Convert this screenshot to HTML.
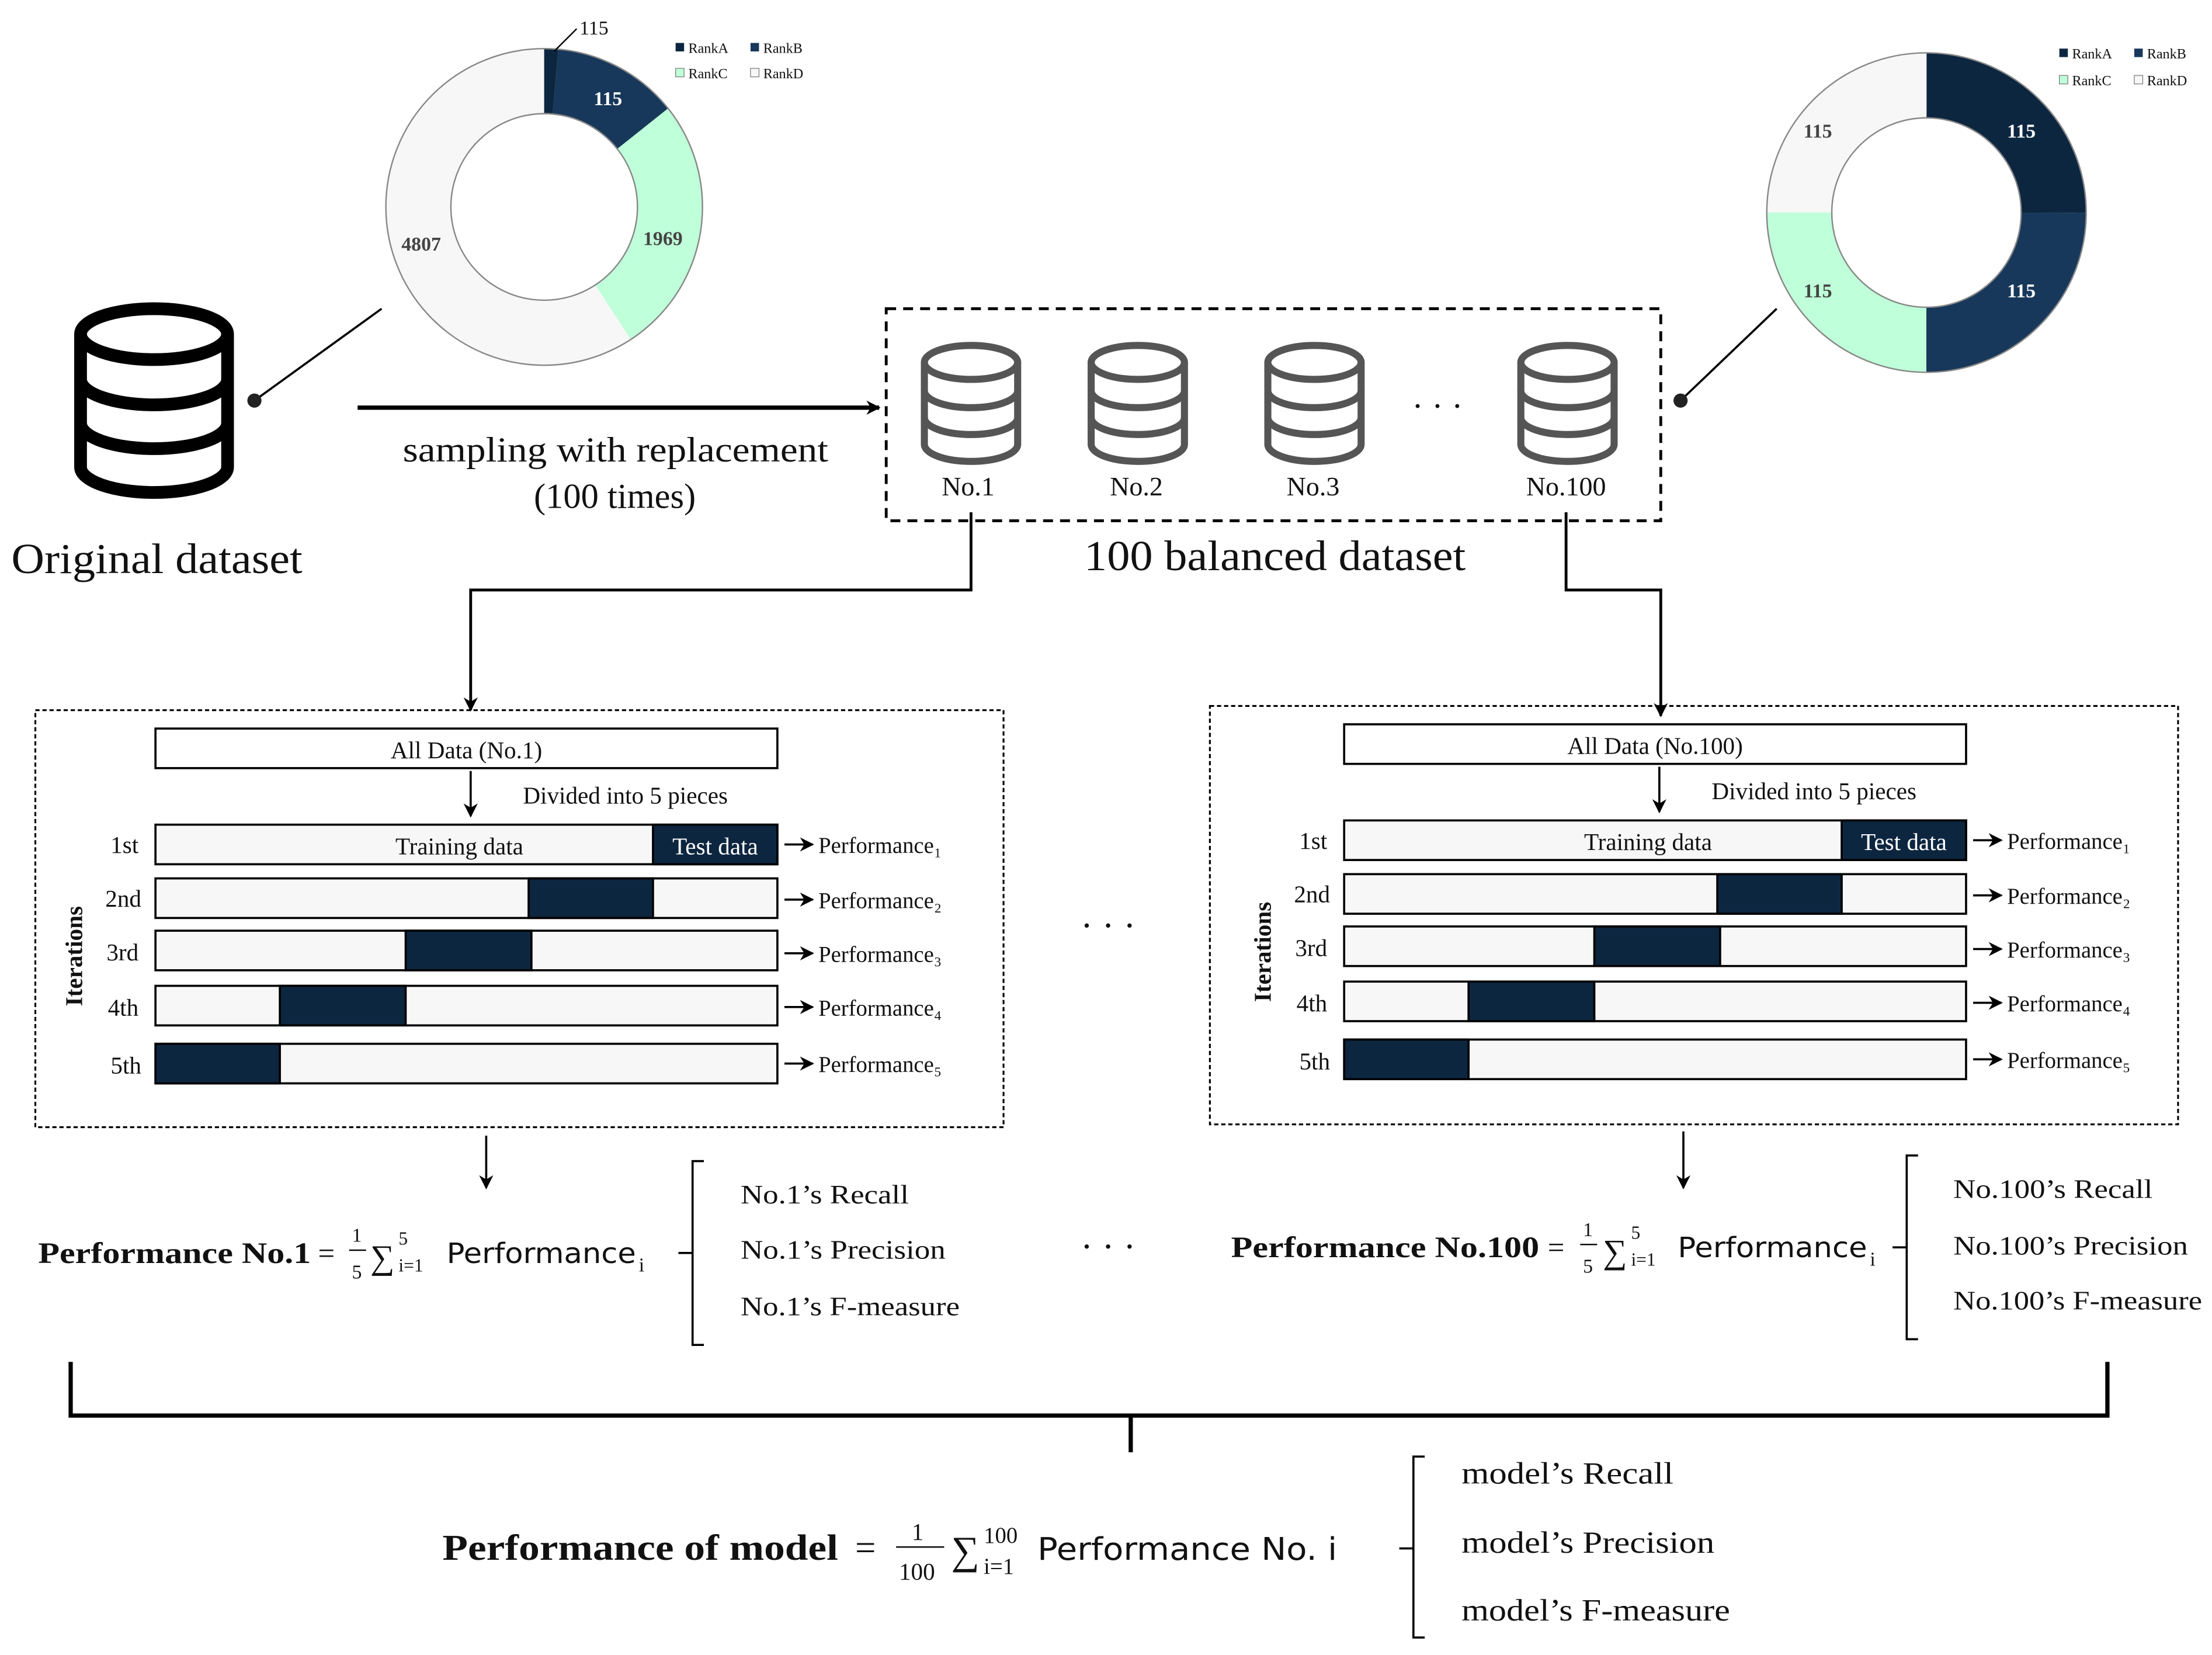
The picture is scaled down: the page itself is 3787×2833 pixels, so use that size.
<!DOCTYPE html>
<html><head><meta charset="utf-8"><style>html,body{margin:0;padding:0;background:#fff}svg{display:block}text{font-family:"Liberation Serif",serif;fill:#111}</style></head><body>
<svg width="3787" height="2833" viewBox="0 0 1565 1170" xmlns="http://www.w3.org/2000/svg">
<defs>
<marker id="ah" markerWidth="10" markerHeight="10" refX="9" refY="5" orient="auto" markerUnits="userSpaceOnUse"><path d="M0,0 L10,5 L0,10 L3,5 z" fill="#000"/></marker>
<g id="cyl">
<g fill="none" stroke="#555" stroke-width="5">
<ellipse cx="36" cy="14" rx="33" ry="12"/>
<path d="M3,14 V72 A33,12 0 0 0 69,72 V14"/>
<path d="M3,34 A33,12 0 0 0 69,34"/>
<path d="M3,53 A33,12 0 0 0 69,53"/>
</g></g>
</defs>
<!-- left donut -->
<g transform="rotate(-90 385 146)" fill="none" stroke-width="46">
<circle cx="385" cy="146" r="89" stroke="#f7f7f7"/>
<circle cx="385" cy="146" r="89" stroke="#bfffd9" stroke-dasharray="0 80 148 400"/>
<circle cx="385" cy="146" r="89" stroke="#17385a" stroke-dasharray="0 8 72 500"/>
<circle cx="385" cy="146" r="89" stroke="#0d2640" stroke-dasharray="8 560"/>
</g>
<circle cx="385" cy="146" r="112" fill="none" stroke="#888" stroke-width="1"/>
<circle cx="385" cy="146" r="66" fill="#fff" stroke="#888" stroke-width="1"/>
<text x="420" y="74" font-size="14" font-weight="bold" style="fill:#fff">115</text>
<text x="455" y="173" font-size="14" font-weight="bold" style="fill:#444">1969</text>
<text x="284" y="177" font-size="14" font-weight="bold" style="fill:#444">4807</text>
<text x="410" y="24" font-size="14">115</text>
<line x1="392" y1="36" x2="408" y2="20" stroke="#000" stroke-width="1"/>
<g font-size="10"><rect x="478" y="30" width="6" height="6" fill="#0d2640"/><text x="487" y="37">RankA</text>
<rect x="531" y="30" width="6" height="6" fill="#17385a"/><text x="540" y="37">RankB</text>
<rect x="478" y="48" width="6" height="6" fill="#bfffd9" stroke="#777" stroke-width=".5"/><text x="487" y="55">RankC</text>
<rect x="531" y="48" width="6" height="6" fill="#f7f7f7" stroke="#777" stroke-width=".5"/><text x="540" y="55">RankD</text></g>
<!-- right donut -->
<g fill="none" stroke-width="46" transform="rotate(-90 1363 150)">
<circle cx="1363" cy="150" r="90" stroke="#0d2640" stroke-dasharray="141.4 800"/>
<circle cx="1363" cy="150" r="90" stroke="#17385a" stroke-dasharray="0 141.4 141.4 800"/>
<circle cx="1363" cy="150" r="90" stroke="#bfffd9" stroke-dasharray="0 282.8 141.4 800"/>
<circle cx="1363" cy="150" r="90" stroke="#f7f7f7" stroke-dasharray="0 424.1 141.4 800"/>
</g>
<circle cx="1363" cy="150" r="113" fill="none" stroke="#888" stroke-width="1"/>
<circle cx="1363" cy="150" r="67" fill="#fff" stroke="#888" stroke-width="1"/>
<g font-size="14" font-weight="bold"><text x="1420" y="97" style="fill:#fff">115</text><text x="1420" y="210" style="fill:#fff">115</text><text x="1276" y="97" style="fill:#444">115</text><text x="1276" y="210" style="fill:#444">115</text></g>
<g font-size="10"><rect x="1457" y="34" width="6" height="6" fill="#0d2640"/><text x="1466" y="41">RankA</text>
<rect x="1510" y="34" width="6" height="6" fill="#17385a"/><text x="1519" y="41">RankB</text>
<rect x="1457" y="53" width="6" height="6" fill="#bfffd9" stroke="#777" stroke-width=".5"/><text x="1466" y="60">RankC</text>
<rect x="1510" y="53" width="6" height="6" fill="#f7f7f7" stroke="#777" stroke-width=".5"/><text x="1519" y="60">RankD</text></g>
<!-- original db -->
<g fill="none" stroke="#000" stroke-width="9">
<ellipse cx="109" cy="236" rx="52" ry="18"/>
<path d="M57,236 V330 A52,18 0 0 0 161,330 V236"/>
<path d="M57,268 A52,18 0 0 0 161,268"/>
<path d="M57,299 A52,18 0 0 0 161,299"/>
</g>
<text x="8" y="405" font-size="30" textLength="206" lengthAdjust="spacingAndGlyphs">Original dataset</text>
<line x1="180" y1="283" x2="270" y2="218" stroke="#000" stroke-width="1.5"/><circle cx="180" cy="283" r="5" fill="#222"/>
<line x1="1189" y1="283" x2="1257" y2="218" stroke="#000" stroke-width="1.5"/><circle cx="1189" cy="283" r="5" fill="#222"/>
<line x1="253" y1="288" x2="622" y2="288" stroke="#000" stroke-width="3" marker-end="url(#ah)"/>
<text x="285" y="326" font-size="25" textLength="301" lengthAdjust="spacingAndGlyphs">sampling with replacement</text>
<text x="435" y="359" font-size="25" text-anchor="middle">(100 times)</text>
<rect x="627" y="218" width="548" height="150" fill="none" stroke="#000" stroke-width="2" stroke-dasharray="7,5"/>
<use href="#cyl" x="651" y="242"/><use href="#cyl" x="769" y="242"/><use href="#cyl" x="894" y="242"/><use href="#cyl" x="1073" y="242"/>
<g font-size="19" text-anchor="middle"><text x="685" y="350">No.1</text><text x="804" y="350">No.2</text><text x="929" y="350">No.3</text><text x="1108" y="350">No.100</text></g>
<text x="1017" y="295" font-size="24" text-anchor="middle">· · ·</text>
<text x="767" y="403" font-size="30" textLength="270" lengthAdjust="spacingAndGlyphs">100 balanced dataset</text>
<polyline points="687,362 687,417 333,417 333,502" fill="none" stroke="#000" stroke-width="2" marker-end="url(#ah)"/>
<polyline points="1108,362 1108,417 1175,417 1175,506" fill="none" stroke="#000" stroke-width="2" marker-end="url(#ah)"/>
<!-- fold blocks -->
<rect x="25" y="502" width="685" height="295" fill="none" stroke="#000" stroke-width="1.3" stroke-dasharray="3,2"/>
<rect x="856" y="499" width="685" height="296" fill="none" stroke="#000" stroke-width="1.3" stroke-dasharray="3,2"/>
<g id="fold1">
<rect x="110" y="515" width="440" height="28" fill="#fff" stroke="#000" stroke-width="1.5"/>
<line x1="333" y1="545" x2="333" y2="577" stroke="#000" stroke-width="1.5" marker-end="url(#ah)"/>
<text x="370" y="568" font-size="17">Divided into 5 pieces</text>
<g stroke="#000" stroke-width="1.5">
<rect x="110" y="583" width="440" height="28" fill="#f7f7f7"/><rect x="462" y="583" width="88" height="28" fill="#0d2640"/>
<rect x="110" y="621" width="440" height="28" fill="#f7f7f7"/><rect x="374" y="621" width="88" height="28" fill="#0d2640"/>
<rect x="110" y="658" width="440" height="28" fill="#f7f7f7"/><rect x="287" y="658" width="89" height="28" fill="#0d2640"/>
<rect x="110" y="697" width="440" height="28" fill="#f7f7f7"/><rect x="198" y="697" width="89" height="28" fill="#0d2640"/>
<rect x="110" y="738" width="440" height="28" fill="#f7f7f7"/><rect x="110" y="738" width="88" height="28" fill="#0d2640"/>
</g>
<text x="325" y="604" font-size="17" text-anchor="middle">Training data</text>
<text x="506" y="604" font-size="17" text-anchor="middle" style="fill:#fff">Test data</text>
<g font-size="17" text-anchor="end"><text x="98" y="603">1st</text><text x="100" y="641">2nd</text><text x="98" y="679">3rd</text><text x="98" y="718">4th</text><text x="100" y="759">5th</text></g>
<text transform="translate(58 676) rotate(-90)" font-size="17" font-weight="bold" text-anchor="middle">Iterations</text>
<g font-size="16">
<line x1="555" y1="597" x2="575" y2="597" stroke="#000" stroke-width="1.5" marker-end="url(#ah)"/><text x="579" y="603">Performance₁</text>
<line x1="555" y1="636" x2="575" y2="636" stroke="#000" stroke-width="1.5" marker-end="url(#ah)"/><text x="579" y="642">Performance₂</text>
<line x1="555" y1="674" x2="575" y2="674" stroke="#000" stroke-width="1.5" marker-end="url(#ah)"/><text x="579" y="680">Performance₃</text>
<line x1="555" y1="712" x2="575" y2="712" stroke="#000" stroke-width="1.5" marker-end="url(#ah)"/><text x="579" y="718">Performance₄</text>
<line x1="555" y1="752" x2="575" y2="752" stroke="#000" stroke-width="1.5" marker-end="url(#ah)"/><text x="579" y="758">Performance₅</text>
</g>
</g>
<use href="#fold1" x="841" y="-3"/>
<text x="330" y="536" font-size="17" text-anchor="middle">All Data (No.1)</text>
<text x="1171" y="533" font-size="17" text-anchor="middle">All Data (No.100)</text>
<g font-size="26" text-anchor="middle"><text x="784" y="663">· · ·</text><text x="784" y="890">· · ·</text></g>
<!-- per-dataset performance -->
<line x1="344" y1="803" x2="344" y2="840" stroke="#000" stroke-width="1.5" marker-end="url(#ah)"/>
<line x1="1191" y1="800" x2="1191" y2="840" stroke="#000" stroke-width="1.5" marker-end="url(#ah)"/>
<text x="27" y="893" font-size="21" font-weight="bold" textLength="193" lengthAdjust="spacingAndGlyphs">Performance No.1</text><text x="225" y="893" font-size="21">=</text>
<g font-size="14"><text x="249" y="878">1</text><text x="249" y="904">5</text></g><line x1="247" y1="884" x2="259" y2="884" stroke="#000"/>
<text x="262" y="897" font-size="24">∑</text><text x="282" y="880" font-size="13">5</text><text x="282" y="899" font-size="13">i=1</text>
<text x="316" y="893" style="font-family:'DejaVu Sans',sans-serif;font-size:20px" textLength="134" lengthAdjust="spacingAndGlyphs">Performance</text><text x="452" y="899" font-size="14">i</text>
<polyline points="498,821 490,821 490,951 498,951" fill="none" stroke="#000" stroke-width="1.5"/><line x1="480" y1="886" x2="490" y2="886" stroke="#000" stroke-width="1.5"/>
<g font-size="19"><text x="524" y="851" textLength="119" lengthAdjust="spacingAndGlyphs">No.1’s Recall</text><text x="524" y="890" textLength="145" lengthAdjust="spacingAndGlyphs">No.1’s Precision</text><text x="524" y="930" textLength="155" lengthAdjust="spacingAndGlyphs">No.1’s F-measure</text></g>
<text x="871" y="889" font-size="21" font-weight="bold" textLength="218" lengthAdjust="spacingAndGlyphs">Performance No.100</text><text x="1095" y="889" font-size="21">=</text>
<g font-size="14"><text x="1120" y="874">1</text><text x="1120" y="900">5</text></g><line x1="1118" y1="880" x2="1130" y2="880" stroke="#000"/>
<text x="1134" y="893" font-size="24">∑</text><text x="1154" y="876" font-size="13">5</text><text x="1154" y="895" font-size="13">i=1</text>
<text x="1187" y="889" style="font-family:'DejaVu Sans',sans-serif;font-size:20px" textLength="134" lengthAdjust="spacingAndGlyphs">Performance</text><text x="1323" y="895" font-size="14">i</text>
<polyline points="1357,817 1349,817 1349,947 1357,947" fill="none" stroke="#000" stroke-width="1.5"/><line x1="1339" y1="882" x2="1349" y2="882" stroke="#000" stroke-width="1.5"/>
<g font-size="19"><text x="1382" y="847" textLength="141" lengthAdjust="spacingAndGlyphs">No.100’s Recall</text><text x="1382" y="887" textLength="166" lengthAdjust="spacingAndGlyphs">No.100’s Precision</text><text x="1382" y="926" textLength="176" lengthAdjust="spacingAndGlyphs">No.100’s F-measure</text></g>
<!-- big bracket -->
<polyline points="50,963 50,1001 1491,1001 1491,963" fill="none" stroke="#000" stroke-width="3"/>
<line x1="800" y1="1001" x2="800" y2="1027" stroke="#000" stroke-width="3"/>
<text x="313" y="1103" font-size="26" font-weight="bold" textLength="280" lengthAdjust="spacingAndGlyphs">Performance of model</text>
<text x="605" y="1103" font-size="26">=</text>
<g font-size="17"><text x="645" y="1089">1</text><text x="636" y="1117">100</text></g><line x1="634" y1="1094" x2="668" y2="1094" stroke="#000"/>
<text x="673" y="1106" font-size="28">∑</text><text x="696" y="1091" font-size="16">100</text><text x="696" y="1113" font-size="16">i=1</text>
<text x="734" y="1103" style="font-family:'DejaVu Sans',sans-serif;font-size:22px" textLength="212" lengthAdjust="spacingAndGlyphs">Performance No. i</text>
<polyline points="1008,1030 1000,1030 1000,1158 1008,1158" fill="none" stroke="#000" stroke-width="1.5"/><line x1="990" y1="1095" x2="1000" y2="1095" stroke="#000" stroke-width="1.5"/>
<g font-size="22"><text x="1034" y="1049" textLength="150" lengthAdjust="spacingAndGlyphs">model’s Recall</text><text x="1034" y="1098" textLength="179" lengthAdjust="spacingAndGlyphs">model’s Precision</text><text x="1034" y="1146" textLength="190" lengthAdjust="spacingAndGlyphs">model’s F-measure</text></g>
</svg>
</body></html>
